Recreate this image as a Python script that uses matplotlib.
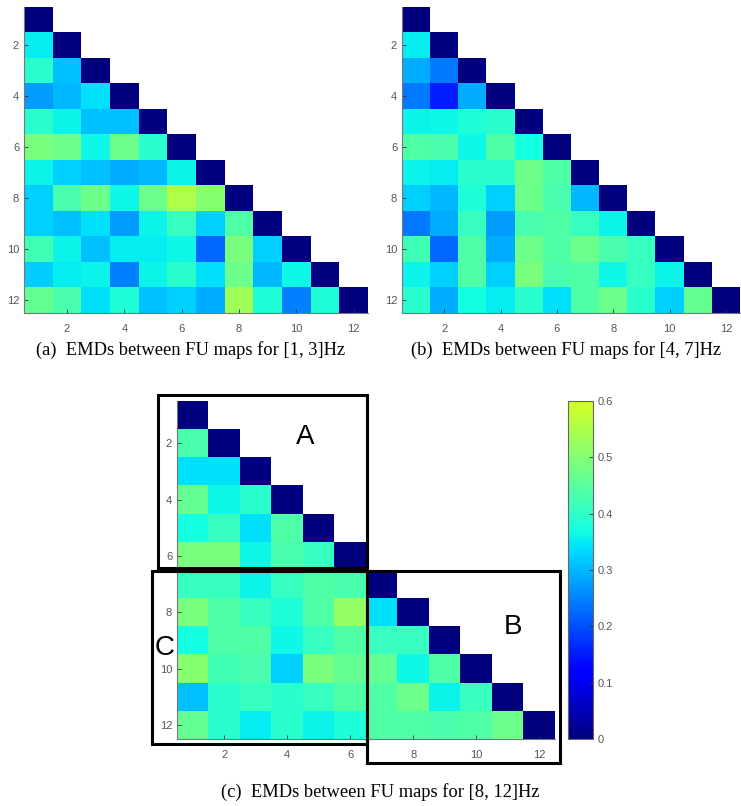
import numpy as np
import matplotlib
matplotlib.use("Agg")
import matplotlib.pyplot as plt
from matplotlib.colors import ListedColormap
from matplotlib.patches import Rectangle

# ---- data: strictly-lower-triangle rows (row i has i-1 values), diagonal = 0 ----
rows_a = [
    [0.35],
    [0.395, 0.31],
    [0.275, 0.30, 0.34],
    [0.395, 0.36, 0.31, 0.31],
    [0.49, 0.475, 0.365, 0.475, 0.395],
    [0.36, 0.325, 0.31, 0.29, 0.30, 0.36],
    [0.325, 0.43, 0.475, 0.365, 0.475, 0.55, 0.505],
    [0.325, 0.31, 0.34, 0.275, 0.36, 0.41, 0.325, 0.44],
    [0.42, 0.36, 0.31, 0.35, 0.35, 0.365, 0.225, 0.49, 0.325],
    [0.32, 0.35, 0.36, 0.25, 0.36, 0.395, 0.34, 0.475, 0.30, 0.365],
    [0.46, 0.43, 0.34, 0.38, 0.31, 0.325, 0.29, 0.535, 0.38, 0.25, 0.38],
]
rows_b = [
    [0.35],
    [0.29, 0.24],
    [0.24, 0.15, 0.29],
    [0.36, 0.365, 0.38, 0.395],
    [0.44, 0.43, 0.365, 0.44, 0.37],
    [0.36, 0.35, 0.395, 0.395, 0.475, 0.44],
    [0.325, 0.30, 0.38, 0.325, 0.475, 0.43, 0.30],
    [0.24, 0.29, 0.41, 0.275, 0.43, 0.44, 0.41, 0.36],
    [0.42, 0.225, 0.44, 0.29, 0.475, 0.44, 0.475, 0.43, 0.41],
    [0.36, 0.325, 0.44, 0.325, 0.49, 0.43, 0.44, 0.365, 0.41, 0.36],
    [0.395, 0.29, 0.37, 0.35, 0.395, 0.34, 0.44, 0.475, 0.395, 0.325, 0.46],
]
rows_c = [
    [0.43],
    [0.34, 0.34],
    [0.46, 0.365, 0.395],
    [0.37, 0.41, 0.34, 0.44],
    [0.49, 0.49, 0.365, 0.43, 0.41],
    [0.41, 0.41, 0.36, 0.41, 0.44, 0.43],
    [0.49, 0.44, 0.41, 0.38, 0.44, 0.52, 0.34],
    [0.37, 0.44, 0.44, 0.365, 0.41, 0.44, 0.41, 0.41],
    [0.505, 0.42, 0.43, 0.325, 0.49, 0.46, 0.46, 0.365, 0.44],
    [0.31, 0.395, 0.41, 0.395, 0.41, 0.44, 0.44, 0.475, 0.36, 0.41],
    [0.46, 0.395, 0.35, 0.395, 0.36, 0.38, 0.44, 0.44, 0.43, 0.44, 0.475],
]
n_maps = 12
tick_vals = [2, 4, 6, 8, 10, 12]
cbar_ticks = [0, 0.1, 0.2, 0.3, 0.4, 0.5, 0.6]
vmin, vmax = 0.0, 0.6
captions = ["(a)  EMDs between FU maps for [1, 3]Hz",
            "(b)  EMDs between FU maps for [4, 7]Hz",
            "(c)  EMDs between FU maps for [8, 12]Hz"]
box_labels = ["A", "B", "C"]


def build(rows):
    m = np.full((n_maps, n_maps), np.nan)
    m[0, 0] = 0.0
    for i, r in enumerate(rows, start=1):
        m[i, :i] = r
        m[i, i] = 0.0
    return m


cmap = ListedColormap(plt.get_cmap("jet")(np.linspace(0, 0.61, 256)))
cmap.set_bad("white")

W, H = 741, 806
fig = plt.figure(figsize=(W / 100, H / 100), dpi=100)

tick_color = "#555555"
spine_color = "#777777"


def px_axes(l, t, r, b):
    return fig.add_axes([l / W, 1 - b / H, (r - l) / W, (b - t) / H])


def style(ax):
    for s in ["top", "right"]:
        ax.spines[s].set_visible(False)
    for s in ["left", "bottom"]:
        ax.spines[s].set_color(spine_color)
        ax.spines[s].set_linewidth(0.8)
    ax.set_xticks(tick_vals)
    ax.set_yticks(tick_vals)
    ax.tick_params(direction="in", length=3, width=0.6, color="#333333",
                   labelcolor=tick_color, labelsize=8)
    for lab in ax.get_xticklabels() + ax.get_yticklabels():
        lab.set_fontfamily("Liberation Sans")
    ax.tick_params(axis="x", pad=8)


mats = [build(rows_a), build(rows_b), build(rows_c)]
boxes = [(24, 7, 368, 313), (402, 7, 740, 313), (177, 401, 555, 739)]
ims = []
for m, (l, t, r, b) in zip(mats, boxes):
    ax = px_axes(l, t, r, b)
    im = ax.imshow(m, cmap=cmap, vmin=vmin, vmax=vmax, aspect="auto",
                   interpolation="nearest",
                   extent=(0.5, n_maps + 0.5, n_maps + 0.5, 0.5))
    ax.set_xlim(0.5, n_maps + 0.5)
    ax.set_ylim(n_maps + 0.5, 0.5)
    style(ax)
    ims.append(im)

# colorbar
cax = px_axes(568, 401, 593, 739)
cb = fig.colorbar(ims[2], cax=cax, ticks=cbar_ticks)
cb.outline.set_edgecolor("#666666")
cb.outline.set_linewidth(0.8)
cax.tick_params(direction="in", length=3, width=0.6, color="#333333",
                labelcolor=tick_color, labelsize=8)
cax.set_yticklabels([f"{v:g}" for v in cbar_ticks], fontfamily="Liberation Sans")

# captions
serif = "Liberation Serif"
fig.text(191 / W, 1 - 350 / H, captions[0], ha="center", va="center",
         fontsize=13.3, family=serif)
fig.text(566 / W, 1 - 350 / H, captions[1], ha="center", va="center",
         fontsize=13.3, family=serif)
fig.text(380 / W, 1 - 792 / H, captions[2], ha="center", va="center",
         fontsize=13.3, family=serif)

# boxes A, B, C (figure pixel coordinates)
rects = [(158, 395, 367, 568), (367, 571, 560, 763), (152, 571, 367, 744)]
for (l, t, r, b) in rects:
    fig.add_artist(Rectangle((l / W, 1 - b / H), (r - l) / W, (b - t) / H,
                             transform=fig.transFigure, fill=False,
                             edgecolor="black", linewidth=2.2, zorder=10))

label_pos = [(305, 437), (513, 627), (165, 648)]
for lab, (x, y) in zip(box_labels, label_pos):
    fig.text(x / W, 1 - y / H, lab, ha="center", va="center", fontsize=20,
             family="Liberation Sans", zorder=11)

fig.savefig("out.png", dpi=100)
